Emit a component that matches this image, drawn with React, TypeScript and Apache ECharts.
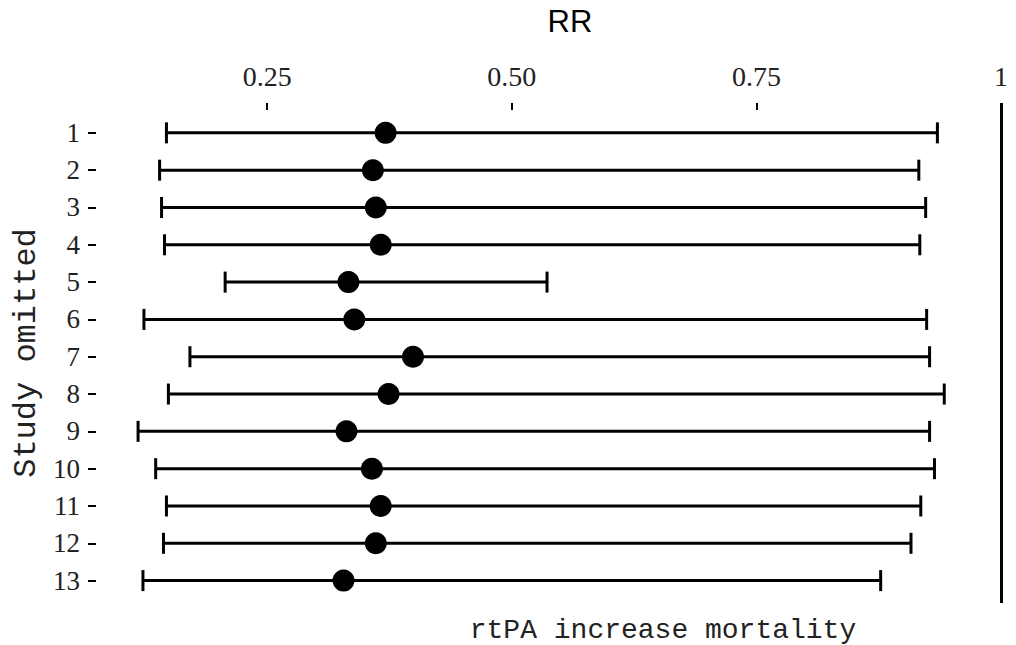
import React, { useEffect, useRef } from "react";
import * as echarts from "echarts";

// Leave-one-out sensitivity analysis: pooled RR with 95% CI after omitting each study
const studies = [1, 2, 3, 4, 5, 6, 7, 8, 9, 10, 11, 12, 13];
const rr = [0.371, 0.358, 0.361, 0.366, 0.333, 0.339, 0.399, 0.374, 0.331, 0.357, 0.366, 0.361, 0.328];
const lower = [0.147, 0.14, 0.142, 0.145, 0.207, 0.124, 0.171, 0.149, 0.118, 0.136, 0.147, 0.144, 0.123];
const upper = [0.935, 0.916, 0.923, 0.917, 0.536, 0.924, 0.927, 0.942, 0.927, 0.932, 0.918, 0.908, 0.877];

const xTicks = [0.25, 0.5, 0.75, 1];
const xTickLabels = ["0.25", "0.50", "0.75", "1"];

const serif = "'Liberation Serif', serif";
const mono = "'Liberation Mono', monospace";

export default function App() {
  const ref = useRef<HTMLDivElement>(null);

  useEffect(() => {
    if (!ref.current) return;
    const chart = echarts.init(ref.current, null, { renderer: "svg" });

    const intervals = studies.map((s, i) => [lower[i], upper[i], s]);
    const points = studies.map((s, i) => [rr[i], s]);

    chart.setOption({
      animation: false,
      backgroundColor: "#fff",
      grid: { left: 96, right: 15, top: 103, bottom: 42 },
      xAxis: {
        type: "value",
        position: "top",
        min: 0.075,
        max: 1,
        axisLine: { show: false },
        splitLine: { show: false },
        axisTick: {
          show: true,
          inside: true,
          length: 7,
          customValues: xTicks,
          lineStyle: { color: "#000", width: 2 },
        },
        axisLabel: {
          customValues: xTicks,
          margin: 13,
          fontSize: 28,
          fontFamily: serif,
          color: "#222",
          formatter: (v: number) => xTickLabels[xTicks.indexOf(v)] ?? String(v),
        },
      },
      yAxis: {
        type: "value",
        inverse: true,
        min: 0.2,
        max: 13.6,
        name: "Study omitted",
        nameLocation: "middle",
        nameGap: 50,
        nameTextStyle: { fontSize: 32, fontFamily: mono, color: "#222" },
        axisLine: { show: false },
        splitLine: { show: false },
        axisTick: {
          show: true,
          length: 8,
          customValues: studies,
          lineStyle: { color: "#000", width: 2 },
        },
        axisLabel: {
          customValues: studies,
          margin: 16,
          fontSize: 27,
          fontFamily: serif,
          color: "#222",
        },
      },
      graphic: [
        {
          type: "text",
          x: 570,
          y: 21,
          style: {
            text: "RR",
            fontSize: 31,
            fontFamily: "'Liberation Sans', Arial, sans-serif",
            fill: "#000",
            textAlign: "center",
            textVerticalAlign: "middle",
          },
        },
        {
          type: "text",
          x: 663,
          y: 630,
          style: {
            text: "rtPA increase mortality",
            fontSize: 28,
            fontFamily: mono,
            fill: "#222",
            textAlign: "center",
            textVerticalAlign: "middle",
          },
        },
      ],
      series: [
        {
          type: "custom",
          data: intervals,
          encode: { x: [0, 1], y: 2 },
          z: 2,
          renderItem: (_params: any, api: any) => {
            const lo = api.coord([api.value(0), api.value(2)]);
            const hi = api.coord([api.value(1), api.value(2)]);
            const cap = 10.5;
            const style = { stroke: "#000", lineWidth: 3 };
            return {
              type: "group",
              children: [
                { type: "line", shape: { x1: lo[0], y1: lo[1], x2: hi[0], y2: hi[1] }, style },
                { type: "line", shape: { x1: lo[0], y1: lo[1] - cap, x2: lo[0], y2: lo[1] + cap }, style },
                { type: "line", shape: { x1: hi[0], y1: hi[1] - cap, x2: hi[0], y2: hi[1] + cap }, style },
              ],
            };
          },
        },
        {
          type: "scatter",
          data: points,
          symbol: "circle",
          symbolSize: 22,
          itemStyle: { color: "#000", opacity: 1 },
          z: 3,
          markLine: {
            silent: true,
            symbol: "none",
            label: { show: false },
            lineStyle: { color: "#000", width: 3, type: "solid" },
            data: [{ xAxis: 1 }],
          },
        },
      ],
    });

    return () => chart.dispose();
  }, []);

  return (
    <div
      ref={ref}
      style={{ position: "absolute", left: 0, top: 0, width: 1016, height: 645, background: "#fff" }}
    />
  );
}
